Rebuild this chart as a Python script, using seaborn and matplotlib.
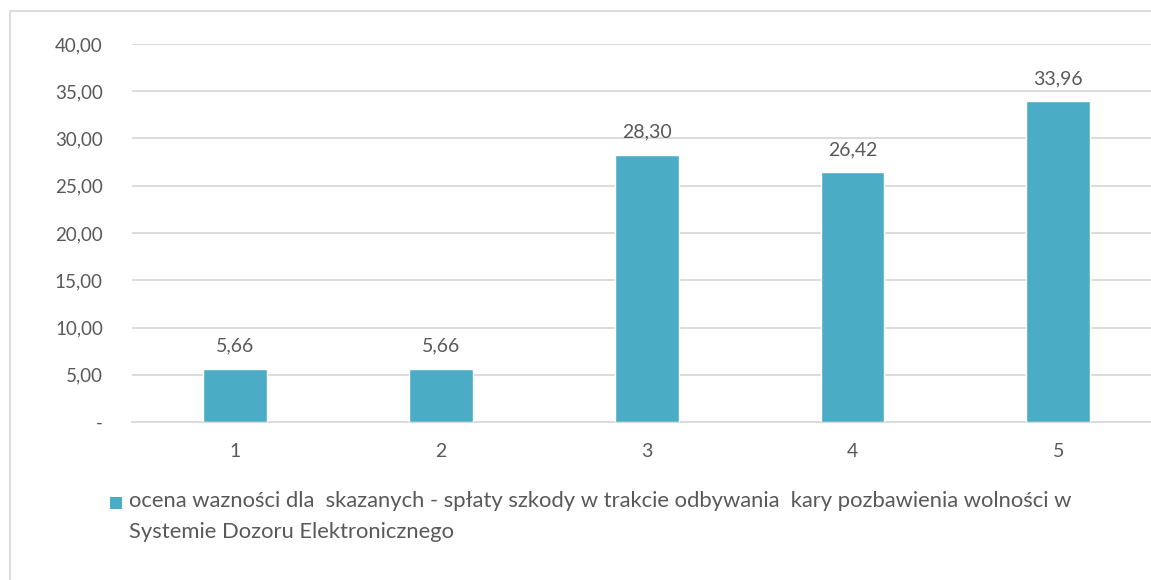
import matplotlib
matplotlib.use("Agg")
import matplotlib.pyplot as plt
import matplotlib.patches as mpatches
import pandas as pd
import seaborn as sns

# Data
categories = ["1", "2", "3", "4", "5"]
values = [5.66, 5.66, 28.30, 26.42, 33.96]
legend_label = ("ocena wazności dla  skazanych - spłaty szkody w trakcie odbywania  kary pozbawienia wolności w\n"
                "Systemie Dozoru Elektronicznego")
y_ticks = [0, 5, 10, 15, 20, 25, 30, 35, 40]

bar_color = "#4BACC6"
text_color = "#595959"
grid_color = "#D9D9D9"

df = pd.DataFrame({"Kategoria": categories, "Wartosc": values})

sns.set_style("white")
plt.rcParams["font.family"] = ["Lato", "DejaVu Sans"]

fig = plt.figure(figsize=(11.51, 5.80), dpi=100)
ax = fig.add_axes([132 / 1151, 1 - 422 / 580, 1 - 132 / 1151, (422 - 44) / 580])

sns.barplot(data=df, x="Kategoria", y="Wartosc", color=bar_color, width=0.31,
            saturation=1, ax=ax, zorder=3)

# Value labels above bars
labels = [f"{v:.2f}".replace(".", ",") for v in values]
ax.bar_label(ax.containers[0], labels=labels, padding=10, fontsize=14, color=text_color)

# Axes formatting
ax.set_ylim(0, 40)
ax.set_xlim(-0.5, 4.45)
ax.set_yticks(y_ticks)
ax.set_yticklabels(["-"] + [f"{t:.2f}".replace(".", ",") for t in y_ticks[1:]])
ax.set_xlabel("")
ax.set_ylabel("")
ax.tick_params(axis="y", length=0, pad=21, labelsize=13.5, labelcolor=text_color)
ax.tick_params(axis="x", length=0, pad=15, labelsize=14, labelcolor=text_color)
ax.grid(axis="y", color=grid_color, linewidth=1.3, zorder=0)
for side in ["top", "right", "left"]:
    ax.spines[side].set_visible(False)
ax.spines["bottom"].set_color(grid_color)
ax.spines["bottom"].set_linewidth(1.3)

# Legend drawn at the bottom
fig.patches.append(mpatches.Rectangle((110 / 1151, 1 - 509 / 580), 12 / 1151, 12 / 580,
                                      transform=fig.transFigure, facecolor=bar_color,
                                      edgecolor="none"))
fig.text(129 / 1151, 1 - 491 / 580, legend_label, fontsize=15.8, color=text_color,
         va="top", ha="left", linespacing=1.7)

# Light chart border
fig.patches.append(mpatches.Rectangle((10 / 1151, -0.02), 1.05, 1 - 11 / 580 + 0.02,
                                      transform=fig.transFigure, facecolor="none",
                                      edgecolor=grid_color, linewidth=1.3))

fig.savefig("out.png", dpi=100)
